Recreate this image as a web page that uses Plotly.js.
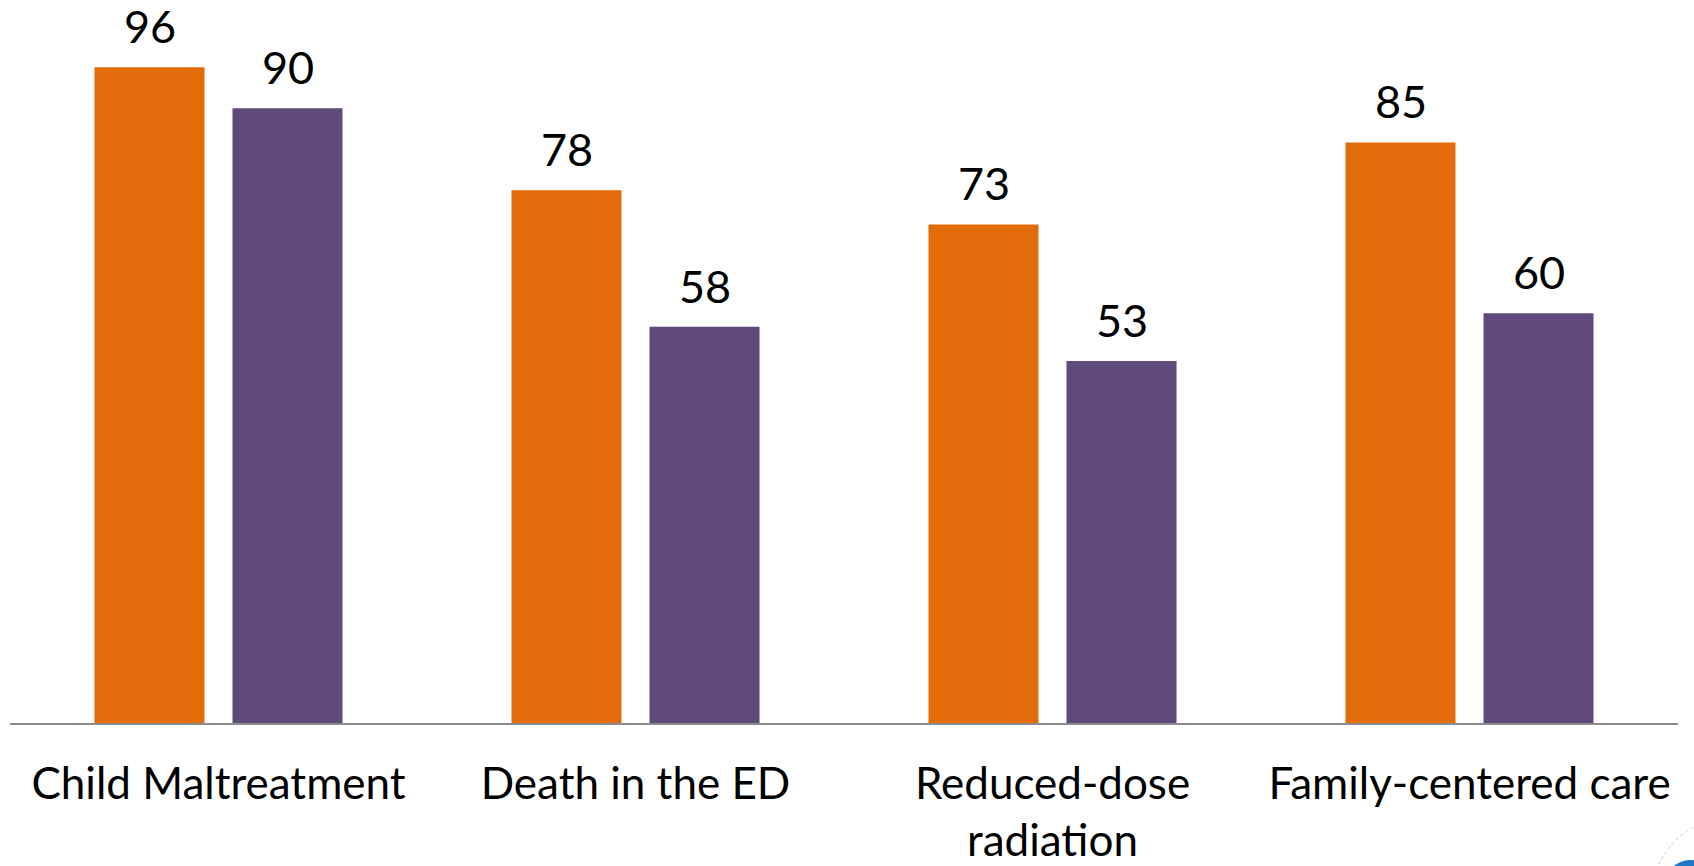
<!DOCTYPE html>
<html>
<head>
<meta charset="utf-8">
<script src="https://cdn.plot.ly/plotly-3.0.1.min.js"></script>
<style>html,body{margin:0;padding:0;background:#fff;}#chart{width:1694px;height:866px;}</style>
</head>
<body>
<div id="chart"></div>
<script>
const categories = ["Child Maltreatment", "Death in the ED", "Reduced-dose<br>radiation", "Family-centered care"];
const seriesA = [96, 78, 73, 85];
const seriesB = [90, 58, 53, 60];
const seriesNames = ["Series 1", "Series 2"];
const seriesColors = ["#E36C0A", "#604A7B"];

const FONT = "Lato, 'Open Sans', sans-serif";
const traces = [
  {type: "bar", name: seriesNames[0], x: categories, y: seriesA, marker: {color: seriesColors[0]}, hoverinfo: "none"},
  {type: "bar", name: seriesNames[1], x: categories, y: seriesB, marker: {color: seriesColors[1]}, hoverinfo: "none"}
];

// value labels above each bar (half a slot left / right of the category centre)
const SLOT_HALF = 69;
const annotations = [];
[seriesA, seriesB].forEach((vals, s) => {
  vals.forEach((v, i) => {
    annotations.push({
      x: categories[i], y: v, xref: "x", yref: "y",
      xshift: s === 0 ? -SLOT_HALF : SLOT_HALF, yshift: 12,
      yanchor: "bottom", xanchor: "center", showarrow: false,
      text: String(v), font: {family: FONT, size: 45, color: "#000"}
    });
  });
});

const layout = {
  width: 1694, height: 866,
  margin: {l: 10, r: 16, t: 40, b: 143},
  paper_bgcolor: "#fff", plot_bgcolor: "#fff",
  showlegend: false,
  barmode: "group", bargap: 0.338, bargroupgap: 0.203,
  font: {family: FONT, size: 44, color: "#000"},
  xaxis: {showline: true, linecolor: "#8C8C8C", linewidth: 2, ticks: "", showgrid: false,
          tickfont: {family: FONT, size: 44, color: "#000"}, ticklabelstandoff: 21, fixedrange: true},
  yaxis: {range: [0, 100], visible: false, showgrid: false, zeroline: false, fixedrange: true},
  annotations: annotations,
  shapes: [
    {type: "circle", xref: "paper", yref: "paper", xsizemode: "pixel", ysizemode: "pixel",
     xanchor: 1.0, yanchor: 0, x0: -27, x1: 141, y0: -93, y1: -261,
     line: {color: "#C8C8C8", width: 1, dash: "dot"}, fillcolor: "rgba(0,0,0,0)"},
    {type: "circle", xref: "paper", yref: "paper", xsizemode: "pixel", ysizemode: "pixel",
     xanchor: 1.0, yanchor: 0, x0: -13, x1: 37, y0: -137, y1: -187,
     line: {width: 0}, fillcolor: "#1F78C1"}
  ]
};
Plotly.newPlot("chart", traces, layout, {displayModeBar: false, staticPlot: true});
</script>
</body>
</html>
